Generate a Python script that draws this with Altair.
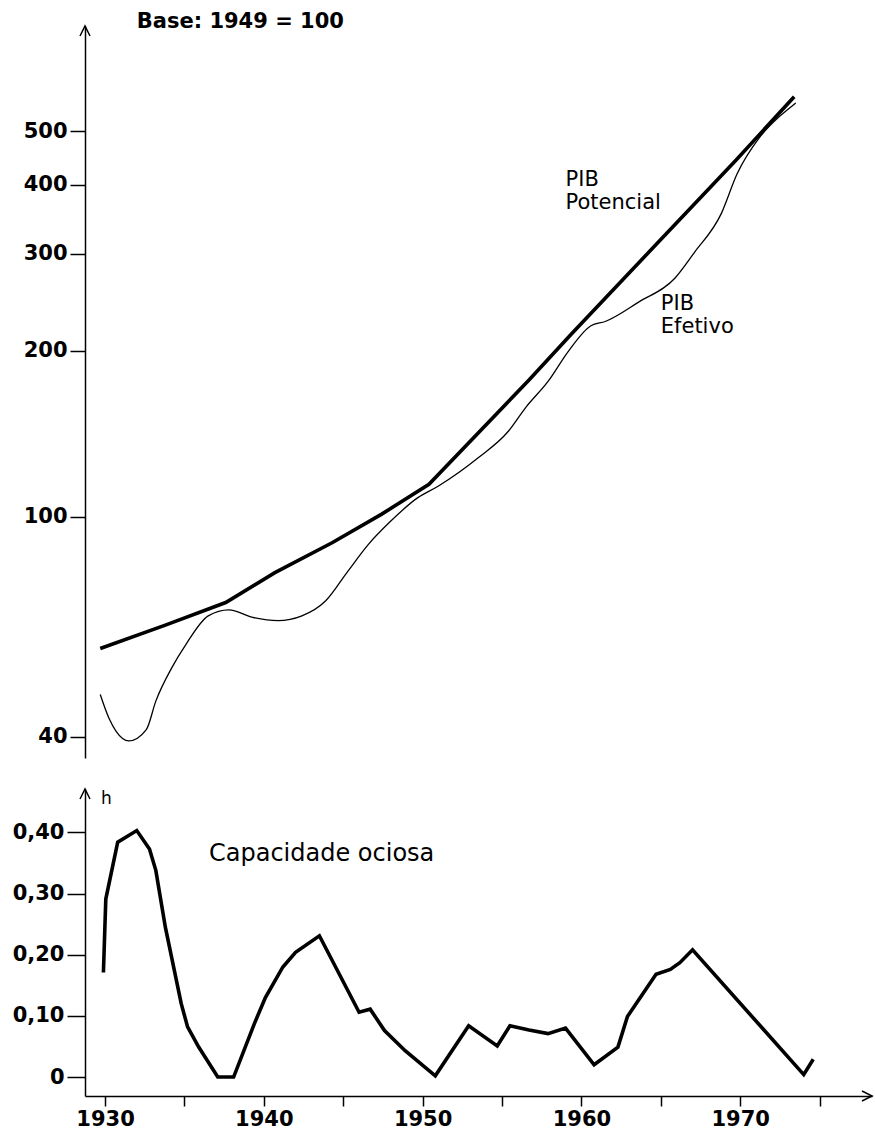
import altair as alt
import pandas as pd

FONT = "DejaVu Sans"

# scale domains
X_MIN, X_MAX = 1928.74, 1978.30
TOP_MIN, TOP_MAX = 36.6, 775
BOT_MIN, BOT_MAX = -0.031, 0.471

# PIB Potencial (thick line)
pot_years = [1929.7, 1933.8, 1937.6, 1940.7, 1944.3, 1947.4, 1950.4, 1956.7, 1959.4, 1969.7, 1973.4]
pot_vals = [57.8, 63.7, 70.0, 79.3, 89.8, 101.1, 114.6, 177, 215, 442, 577]

# PIB Efetivo (thin line)
eff_years = [1929.7, 1930.25, 1930.7, 1931.5, 1932.6, 1933.2, 1934.2, 1935.1, 1936.5, 1937.8,
             1939.3, 1940.9, 1942.4, 1943.9, 1945.3, 1946.6, 1947.9, 1949.7, 1951.0, 1953.5,
             1955.4, 1956.5, 1957.9, 1959.2, 1960.6, 1961.5, 1963.6, 1965.9, 1967.1, 1968.8,
             1969.8, 1971.2, 1972.4, 1972.9, 1973.5]
eff_vals = [47.7, 43.2, 40.9, 39.3, 41.2, 46.4, 53.3, 58.8, 66.2, 67.9,
            65.8, 64.9, 66.2, 70.5, 79.8, 89.3, 97.7, 108.4, 113.8, 128,
            143, 158, 176, 200, 222, 226, 245, 271, 301, 354,
            418, 486, 529, 544, 562]

# Capacidade ociosa h
h_years = [1929.9, 1930.05, 1930.8, 1932.0, 1932.8, 1933.2, 1933.8, 1934.8, 1935.2, 1935.9,
           1937.1, 1938.1, 1939.4, 1940.1, 1941.2, 1942.0, 1943.5, 1946.0, 1946.7, 1947.6,
           1948.9, 1950.8, 1952.9, 1954.7, 1955.5, 1956.7, 1957.9, 1959.0, 1960.8, 1962.3,
           1962.9, 1964.7, 1965.6, 1966.2, 1967.0, 1974.0, 1974.6]
h_vals = [0.171, 0.291, 0.384, 0.403, 0.373, 0.338, 0.245, 0.120, 0.082, 0.049,
          0.0, 0.0, 0.087, 0.130, 0.180, 0.204, 0.231, 0.106, 0.111, 0.076,
          0.043, 0.002, 0.084, 0.051, 0.084, 0.077, 0.071, 0.080, 0.020, 0.049,
          0.099, 0.168, 0.176, 0.187, 0.208, 0.004, 0.029]

top_ticks = [40, 100, 200, 300, 400, 500]
bot_ticks = [0, 0.1, 0.2, 0.3, 0.4]
x_ticks = [1930, 1935, 1940, 1945, 1950, 1955, 1960, 1965, 1970, 1975]

top_label_text = ["Base: 1949 = 100", "PIB\nPotencial", "PIB\nEfetivo"]
top_label_x = [1932.0, 1959.0, 1965.0]
top_label_y = [826, 427, 254]
top_label_size = [21, 21, 21]
top_label_weight = ["bold", "normal", "normal"]

bot_label_text = ["Capacidade ociosa", "h"]
bot_label_x = [1936.55, 1929.75]
bot_label_y = [0.385, 0.468]
bot_label_size = [24, 17]

W = 787
H_TOP = 732
H_BOT = 307

pot_df = pd.DataFrame({"year": pot_years, "value": pot_vals})
eff_df = pd.DataFrame({"year": eff_years, "value": eff_vals})
h_df = pd.DataFrame({"year": h_years, "h": h_vals})
top_lab = pd.DataFrame({"year": top_label_x, "value": top_label_y, "text": top_label_text,
                        "size": top_label_size, "weight": top_label_weight})
bot_lab = pd.DataFrame({"year": bot_label_x, "h": bot_label_y, "text": bot_label_text, "size": bot_label_size})
top_arrow = pd.DataFrame({"year": [X_MIN], "value": [TOP_MAX]})
bot_arrow_y = pd.DataFrame({"year": [X_MIN], "h": [BOT_MAX]})
bot_arrow_x = pd.DataFrame({"year": [X_MAX], "h": [BOT_MIN]})

xscale = alt.Scale(domain=[X_MIN, X_MAX], nice=False, zero=False)
x_top = alt.X("year:Q", scale=xscale, axis=None)
y_top = alt.Y("value:Q",
              scale=alt.Scale(type="log", domain=[TOP_MIN, TOP_MAX], nice=False),
              axis=alt.Axis(values=top_ticks, format="d", title=None, tickSize=15,
                            labelPadding=3, grid=False))

pot = alt.Chart(pot_df).mark_line(color="black", strokeWidth=3.6).encode(x=x_top, y=y_top)
eff = alt.Chart(eff_df).mark_line(color="black", strokeWidth=1.3, interpolate="monotone").encode(x=x_top, y=y_top)
tlab_title = alt.Chart(top_lab.iloc[[0]]).mark_text(align="left", baseline="top", font=FONT, color="black",
                                                    fontWeight="bold").encode(
    x=x_top, y=y_top, text="text:N", size=alt.Size("size:Q", scale=None, legend=None))
tlab = alt.Chart(top_lab.iloc[1:]).mark_text(align="left", baseline="top", font=FONT, color="black",
                                             lineBreak="\n", lineHeight=23).encode(
    x=x_top, y=y_top, text="text:N", size=alt.Size("size:Q", scale=None, legend=None))
tarr = alt.Chart(top_arrow).mark_point(shape="M-1,2L0,0L1,2", size=100, filled=False,
                                       color="black", strokeWidth=1.5, opacity=1).encode(x=x_top, y=y_top)

top = alt.layer(pot, eff, tlab_title, tlab, tarr).properties(width=W, height=H_TOP)

x_bot = alt.X("year:Q", scale=xscale,
              axis=alt.Axis(values=x_ticks, format="d", title=None, tickSize=10, labelPadding=2,
                            grid=False, labelExpr="datum.value % 10 == 0 ? datum.label : ''",
                            labelFlush=False, labelOverlap=False))
y_bot = alt.Y("h:Q", scale=alt.Scale(domain=[BOT_MIN, BOT_MAX], nice=False, zero=False),
              axis=alt.Axis(values=bot_ticks, title=None, tickSize=18, labelPadding=3, grid=False,
                            labelExpr="datum.value == 0 ? '0' : replace(format(datum.value, '.2f'), '.', ',')"))

hline = alt.Chart(h_df).mark_line(color="black", strokeWidth=3.6, strokeJoin="miter").encode(x=x_bot, y=y_bot)
blab = alt.Chart(bot_lab).mark_text(align="left", baseline="top", font=FONT, color="black").encode(
    x=x_bot, y=y_bot, text="text:N", size=alt.Size("size:Q", scale=None, legend=None))
barr_y = alt.Chart(bot_arrow_y).mark_point(shape="M-1,2L0,0L1,2", size=100, filled=False,
                                           color="black", strokeWidth=1.5, opacity=1).encode(x=x_bot, y=y_bot)
barr_x = alt.Chart(bot_arrow_x).mark_point(shape="M-2,-1L0,0L-2,1", size=100, filled=False,
                                           color="black", strokeWidth=1.5, opacity=1).encode(x=x_bot, y=y_bot)

bottom = alt.layer(hline, blab, barr_y, barr_x).properties(width=W, height=H_BOT)

chart = alt.vconcat(top, bottom, spacing=28).properties(
    padding={"left": 12, "top": 10, "right": 0, "bottom": 0},
    background="white",
).configure_view(strokeWidth=0).configure_axis(
    domainColor="black", domainWidth=1.5, tickColor="black", tickWidth=1.5,
    labelColor="black", labelFont=FONT, labelFontSize=21, labelFontWeight="bold",
)

chart.save("out.html", embed_options={"renderer": "svg", "actions": False})
